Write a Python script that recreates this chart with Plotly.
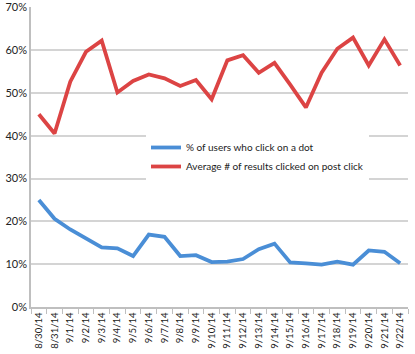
import plotly.graph_objects as go

dates = ["8/30/14", "8/31/14", "9/1/14", "9/2/14", "9/3/14", "9/4/14", "9/5/14",
         "9/6/14", "9/7/14", "9/8/14", "9/9/14", "9/10/14", "9/11/14", "9/12/14",
         "9/13/14", "9/14/14", "9/15/14", "9/16/14", "9/17/14", "9/18/14",
         "9/19/14", "9/20/14", "9/21/14", "9/22/14"]

pct_click_dot = [0.250, 0.206, 0.181, 0.161, 0.139, 0.137, 0.119, 0.169, 0.164,
                 0.119, 0.121, 0.105, 0.106, 0.112, 0.135, 0.148, 0.104, 0.102,
                 0.099, 0.106, 0.099, 0.132, 0.129, 0.102]

avg_results_clicked = [0.450, 0.405, 0.526, 0.596, 0.622, 0.501, 0.528, 0.543,
                       0.534, 0.516, 0.530, 0.485, 0.576, 0.588, 0.547, 0.570,
                       0.519, 0.466, 0.547, 0.603, 0.629, 0.564, 0.625, 0.564]

BLUE = "#4a8ed6"
RED = "#dc4444"
FONT = "Lato, 'Open Sans', sans-serif"

fig = go.Figure()
fig.add_trace(go.Scatter(x=dates, y=pct_click_dot, mode="lines",
                         name="% of users who click on a dot",
                         line={"color": BLUE, "width": 3.8}))
fig.add_trace(go.Scatter(x=dates, y=avg_results_clicked, mode="lines",
                         name="Average # of results clicked on post click",
                         line={"color": RED, "width": 3.8}))

fig.update_layout(
    width=415,
    height=354,
    margin={"l": 31, "r": 7, "t": 7, "b": 47, "autoexpand": False},
    paper_bgcolor="white",
    plot_bgcolor="white",
    font={"family": FONT, "size": 11, "color": "#222"},
    showlegend=True,
    legend={
        "x": 0.305, "y": 0.58, "xanchor": "left", "yanchor": "top",
        "bgcolor": "white", "font": {"size": 10, "color": "#222"},
        "tracegroupgap": 0, "itemwidth": 30,
    },
    xaxis={
        "type": "category",
        "tickangle": -90,
        "tickson": "boundaries",
        "ticks": "outside",
        "ticklen": 5,
        "tickcolor": "#bfbfbf",
        "showline": True,
        "linecolor": "#bfbfbf",
        "linewidth": 1.5,
        "showgrid": False,
        "tickfont": {"size": 9.5},
        "range": [-0.5, 23.5],
    },
    yaxis={
        "range": [0, 0.7005],
        "tickvals": [0, 0.1, 0.2, 0.3, 0.4, 0.5, 0.6, 0.7],
        "tickformat": ".0%",
        "showline": True,
        "linecolor": "#bfbfbf",
        "linewidth": 1.5,
        "gridcolor": "#d4d4d4",
        "gridwidth": 1.5,
        "zeroline": False,
        "ticks": "",
        "tickfont": {"size": 11},
    },
)

# the page body has a default 8px margin; drop it so the figure fills the window
fig.write_html("out.html", config={"displayModeBar": False},
               post_script="document.body.style.margin = '0';")
